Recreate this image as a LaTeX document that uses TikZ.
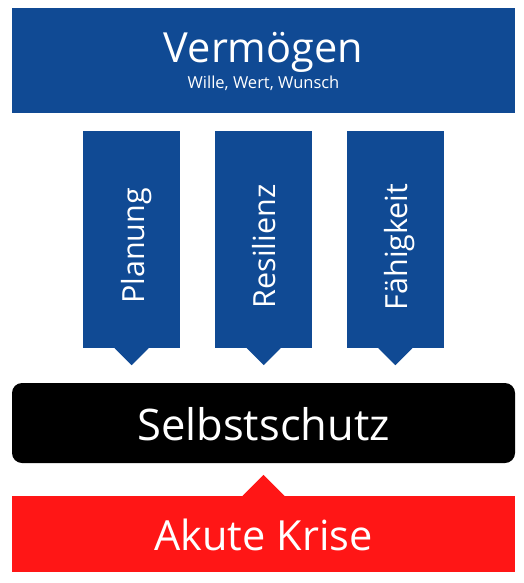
\documentclass[tikz,border=0pt]{standalone}
\usepackage{fontspec}
\setmainfont{Open Sans}
\usepackage{xcolor}
\usepackage{tikz}

\definecolor{vblue}{RGB}{16,74,148}
\definecolor{kred}{RGB}{255,22,22}

\begin{document}
\begin{tikzpicture}[x=1pt,y=-1pt]
        \tikzstyle{every node}+=[inner sep=0pt]
        \tikzstyle{bar}=[minimum width=503pt]
        \tikzstyle{pillar}=[fill=vblue, minimum width=97pt, minimum height=217pt]
        \tikzstyle{label}=[text=white, anchor=base]
        \tikzstyle{plabel}=[text=white, anchor=base, rotate=90, font=\fontsize{30.5}{31}\selectfont]
        \useasboundingbox (0,0) rectangle (523,583);
        % top
        \node [bar, fill=vblue, minimum height=105pt] (verm) at (263.5,60.5) {};
        \node [label, font=\fontsize{41.5}{42}\selectfont] (vermtxt) at (263.5,63) {Vermögen};
        \node [label, font=\fontsize{16.5}{17}\selectfont] (wille) at (263.5,89) {Wille, Wert, Wunsch};
        % pillars
        \node [pillar] (plan) at (131.7,239.5) {};
        \node [plabel] (plantxt) at (144,246) {Planung};
        \fill [vblue] (plan.south) ++(-17,0) -- ++(17,17) -- ++(17,-17);
        \node [pillar] (resi) at (263.7,239.5) {};
        \node [plabel] (resitxt) at (275.7,246.5) {Resilienz};
        \fill [vblue] (resi.south) ++(-17,0) -- ++(17,17) -- ++(17,-17);
        \node [pillar] (faeh) at (395.3,239.5) {};
        \node [plabel] (faehtxt) at (407.3,247) {Fähigkeit};
        \fill [vblue] (faeh.south) ++(-17,0) -- ++(17,17) -- ++(17,-17);
        % selbstschutz
        \node [bar, fill=black, minimum height=80pt, rounded corners=10pt] (selbst) at (263.5,423) {};
        \node [label, font=\fontsize{43.5}{44}\selectfont] (selbsttxt) at (263.5,440) {Selbstschutz};
        % krise
        \node [bar, fill=kred, minimum height=76pt] (krise) at (263.5,534) {};
        \node [label, font=\fontsize{41.5}{42}\selectfont] (krisetxt) at (263.5,550) {Akute Krise};
        \fill [kred] (krise.north) ++(-21,0) -- ++(21,-21) -- ++(21,21);
    \end{tikzpicture}
\end{document}
